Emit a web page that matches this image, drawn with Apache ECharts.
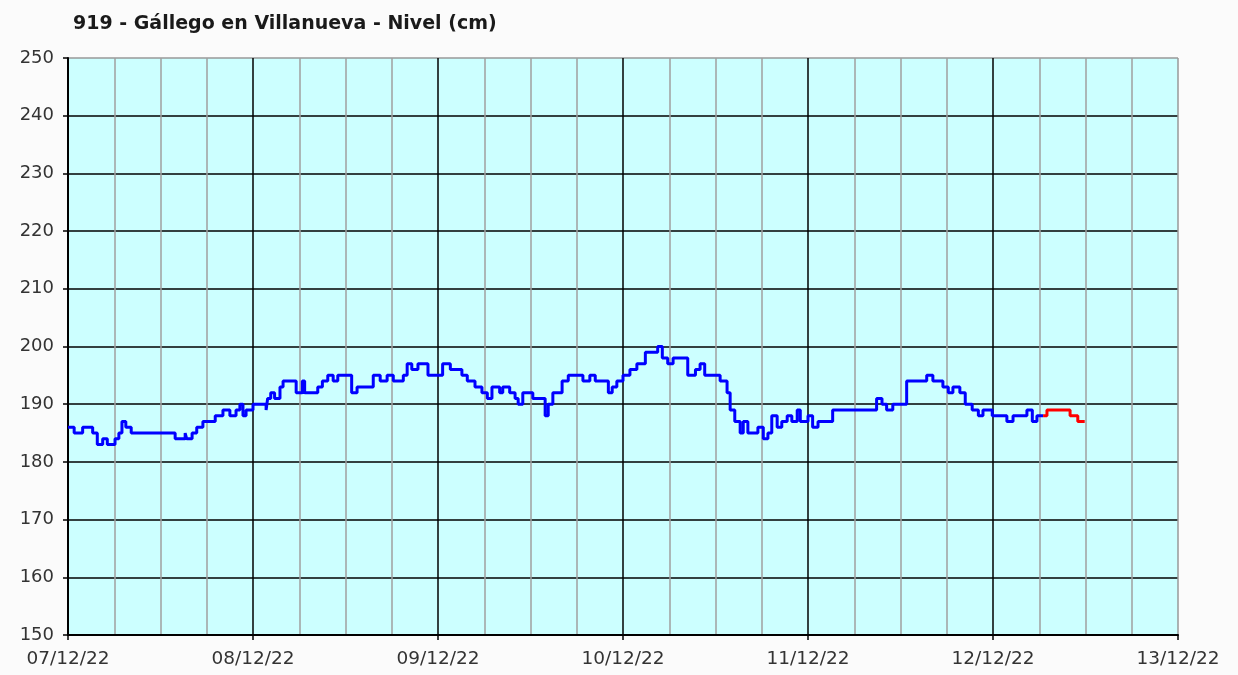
<!DOCTYPE html>
<html>
<head>
<meta charset="utf-8">
<title>919 - Gállego en Villanueva - Nivel (cm)</title>
<script src="https://cdn.jsdelivr.net/npm/echarts@6/dist/echarts.min.js"></script>
<style>
  html, body { margin: 0; padding: 0; background: #fbfbfb; }
  #chart { width: 1238px; height: 675px; }
</style>
</head>
<body>
<div id="chart"></div>
<script>
// etiquetas del eje X (un dia cada 24 h)
var dayLabels = ['07/12/22', '08/12/22', '09/12/22', '10/12/22', '11/12/22', '12/12/22', '13/12/22'];

// horas desde 07/12/22 00:00 y nivel (cm) - tramo azul
var blueHours = [0, 0.8, 1.6, 1.9, 2.9, 3.2, 3.8, 4.5, 5.1, 5.7, 6.1, 6.6, 7.0, 7.5, 8.2, 9.0,
  12.8, 13.2, 13.9, 14.5, 15.2, 15.4, 16.1, 16.7, 17.5, 18.4, 19.1, 20.1, 21.0, 21.8, 22.3,
  22.7, 23.1, 24.0, 24.9, 25.7, 25.9, 26.3, 26.8, 27.5, 27.9, 29.2, 29.6, 30.4, 30.7, 31.7,
  32.4, 33.0, 33.7, 34.4, 35.0, 36.2, 36.8, 37.5, 38.3, 39.2, 39.6, 40.5, 41.4, 42.2, 43.5,
  44.0, 44.6, 45.4, 46.3, 46.7, 47.9, 48.6, 49.6, 50.5, 51.1, 51.8, 52.8, 53.7, 54.4, 55.0,
  56.0, 56.4, 57.3, 58.0, 58.4, 59.0, 59.7, 60.3, 61.2, 61.9, 62.3, 62.9, 63.4, 64.1, 64.9,
  66.4, 66.8, 67.7, 68.4, 69.4, 70.1, 70.6, 71.2, 72.0, 72.9, 73.8, 74.9, 75.9, 76.5, 77.1,
  77.8, 78.5, 79.8, 80.4, 81.4, 82.0, 82.6, 83.9, 84.6, 85.5, 85.9, 86.5, 87.2, 87.6, 88.2,
  89.1, 89.5, 90.2, 90.8, 91.3, 92.0, 92.6, 93.3, 93.9, 94.6, 95.0, 96.0, 96.6, 97.3, 98.6,
  99.2, 100.1, 100.8, 101.4, 104.0, 104.9, 105.6, 106.2, 107.0, 108.3, 108.8, 109.6, 110.5,
  111.4, 112.2, 113.1, 113.5, 114.2, 114.8, 115.7, 116.4, 117.3, 118.1, 118.7, 119.3, 119.9,
  121.3, 121.8, 122.6, 123.5, 124.4, 125.1, 125.7, 126.5];
var blueLevels = [186, 185, 185, 186, 186, 185, 183, 184, 183, 183, 184, 185, 187, 186, 185, 185,
  185, 185, 184, 184, 185, 184, 185, 186, 187, 187, 188, 189, 188, 189, 190,
  188, 189, 190, 190, 189, 191, 192, 191, 193, 194, 194, 192, 194, 192, 192,
  193, 194, 195, 194, 195, 195, 192, 193, 193, 193, 195, 194, 195, 194, 195,
  197, 196, 197, 197, 195, 195, 197, 196, 196, 195, 194, 193, 192, 191, 193,
  192, 193, 192, 191, 190, 192, 192, 191, 191, 188, 190, 192, 192, 194, 195,
  195, 194, 195, 194, 194, 192, 193, 194, 195, 196, 197, 199, 199, 200, 198,
  197, 198, 198, 195, 196, 197, 195, 195, 194, 192, 189, 187, 185, 187, 185,
  185, 186, 184, 185, 188, 186, 187, 188, 187, 189, 187, 188, 186, 187, 187,
  189, 189, 189, 189, 189, 191, 190, 189, 190, 190, 194, 194, 194,
  195, 194, 194, 193, 192, 193, 192, 190, 189, 188, 189, 189, 188,
  188, 187, 188, 188, 189, 187, 188, 188];

// tramo rojo (final)
var redHours = [126.5, 127.0, 129.6, 130.0, 130.6, 131.0, 131.9];
var redLevels = [188, 189, 189, 188, 188, 187, 187];

function pairs(xs, ys) {
  var out = [];
  for (var i = 0; i < xs.length; i++) out.push([xs[i], ys[i]]);
  return out;
}

// lineas de division: negras, salvo el borde superior / derecho (gris)
var ySplitColors = ['#000', '#000', '#000', '#000', '#000', '#000', '#000', '#000', '#000', '#000', '#999'];
var xSplitColors = ['#000', '#000', '#000', '#000', '#000', '#000', '#999'];

var chart = echarts.init(document.getElementById('chart'));
chart.setOption({
  backgroundColor: '#fbfbfb',
  animation: false,
  title: {
    text: '919 - Gállego en Villanueva - Nivel (cm)',
    left: 68,
    top: 10,
    textStyle: { fontFamily: 'DejaVu Sans', fontWeight: 'bold', fontSize: 19, color: '#1a1a1a' }
  },
  grid: {
    left: 68, right: 60, top: 58, bottom: 40,
    show: true, backgroundColor: '#ccffff', borderWidth: 0
  },
  xAxis: {
    type: 'value',
    min: 0, max: 144, interval: 24,
    axisLine: { lineStyle: { color: '#000', width: 2 } },
    axisTick: { show: true, length: 5, lineStyle: { color: '#000', width: 1.5 } },
    axisLabel: {
      margin: 15,
      fontFamily: 'DejaVu Sans', fontSize: 18.5, color: '#333',
      formatter: function (v) { return dayLabels[Math.round(v / 24)]; }
    },
    splitLine: { show: true, lineStyle: { color: xSplitColors, width: 1.5 } },
    minorTick: { show: false, splitNumber: 4 },
    minorSplitLine: { show: true, lineStyle: { color: '#a0a0a0', width: 1.5 } }
  },
  yAxis: {
    type: 'value',
    min: 150, max: 250, interval: 10,
    axisLine: { show: true, lineStyle: { color: '#000', width: 2 } },
    axisTick: { show: true, length: 5, lineStyle: { color: '#000', width: 1.5 } },
    axisLabel: { margin: 14, fontFamily: 'DejaVu Sans', fontSize: 18, color: '#333' },
    splitLine: { show: true, lineStyle: { color: ySplitColors, width: 1.5 } }
  },
  series: [
    {
      type: 'line', step: 'end', showSymbol: false,
      data: pairs(blueHours, blueLevels),
      lineStyle: { color: '#0000ff', width: 3 }
    },
    {
      type: 'line', step: 'end', showSymbol: false,
      data: pairs(redHours, redLevels),
      lineStyle: { color: '#ff0000', width: 3 }
    }
  ]
});
</script>
</body>
</html>
